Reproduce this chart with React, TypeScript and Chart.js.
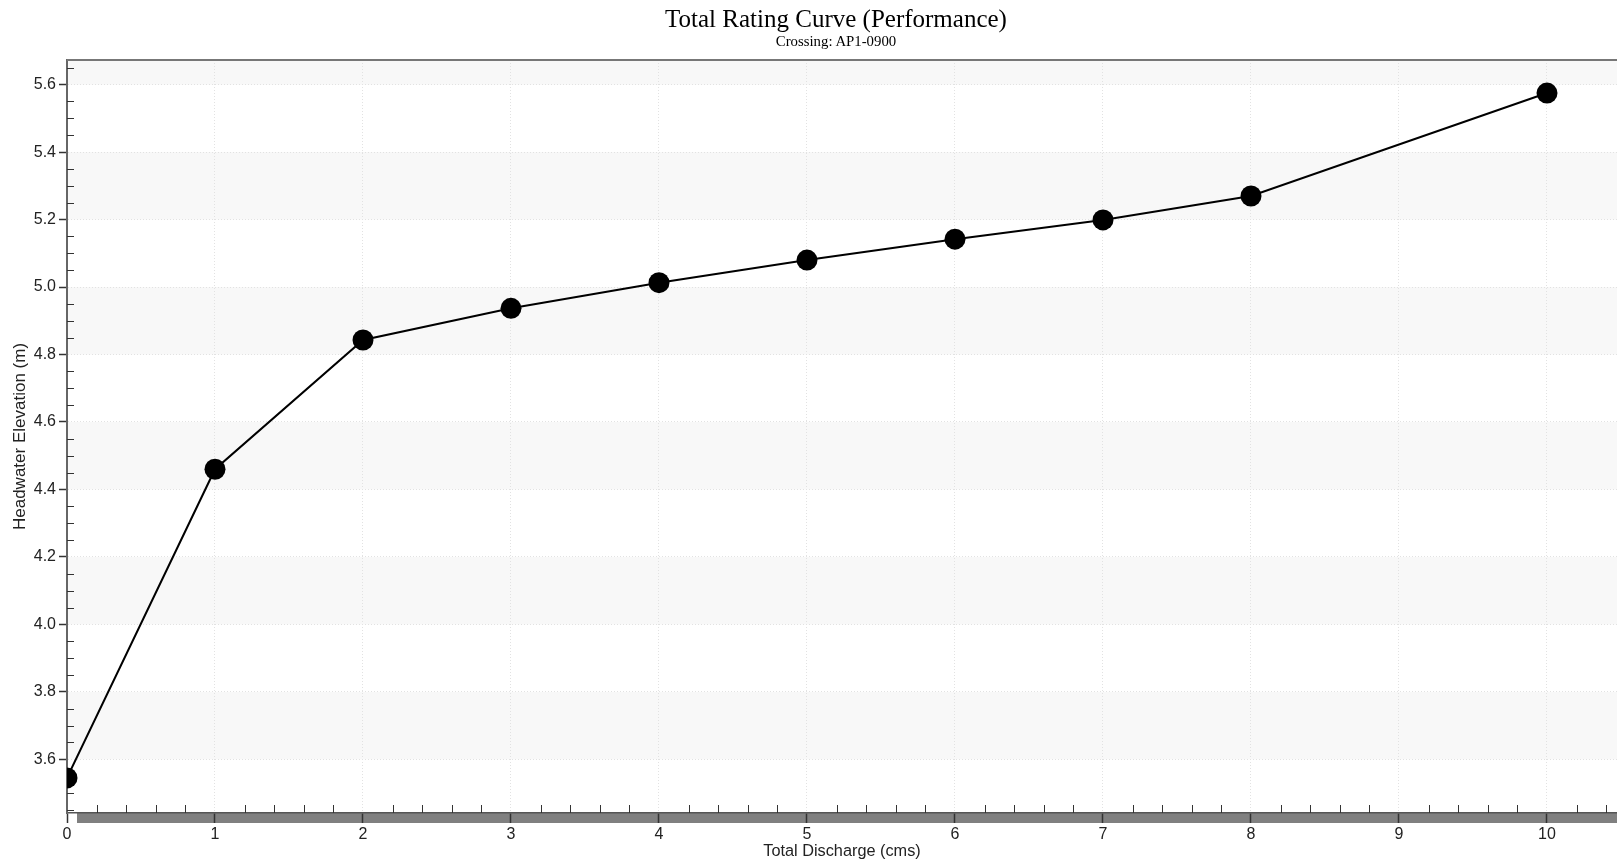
import React, { useEffect, useRef } from "react";
import { Chart, registerables } from "chart.js";

Chart.register(...registerables);

// ---- data ----
const discharge = [0, 1, 2, 3, 4, 5, 6, 7, 8, 10];
const headwater = [3.545, 4.46, 4.843, 4.937, 5.013, 5.08, 5.142, 5.199, 5.27, 5.575];

// ---- axes ----
const xRange = [0, 10.473];
const yRange = [3.441, 5.673];
const xStep = 1;
const xMinorStep = 0.2;
const yStep = 0.2;
const yMinorStep = 0.05;

// ---- texts ----
const titleText = "Total Rating Curve (Performance)";
const subtitleText = "Crossing: AP1-0900";
const xTitle = "Total Discharge (cms)";
const yTitle = "Headwater Elevation (m)";

const SANS = "'Liberation Sans', Arial, sans-serif";
const SERIF = "'Liberation Serif', 'Times New Roman', serif";

const decorPlugin = {
  id: "decor",
  beforeDraw(chart: any) {
    const { ctx, chartArea: a, scales } = chart;
    const y = scales.y;
    ctx.save();
    ctx.fillStyle = "#ffffff";
    ctx.fillRect(0, 0, chart.width, chart.height);
    // alternating bands
    ctx.beginPath();
    ctx.rect(a.left, a.top, a.right - a.left, a.bottom - a.top);
    ctx.clip();
    const i0 = Math.floor(y.min / yStep);
    const i1 = Math.ceil(y.max / yStep);
    for (let i = i0; i < i1; i++) {
      if (i % 2 !== 0) continue;
      const top = y.getPixelForValue((i + 1) * yStep);
      const bot = y.getPixelForValue(i * yStep);
      ctx.fillStyle = "#f8f8f8";
      ctx.fillRect(a.left, top, a.right - a.left, bot - top);
    }
    ctx.restore();
    // scrollbar-like gray strip under the x axis
    ctx.save();
    ctx.fillStyle = "#808080";
    ctx.fillRect(a.left + 10, a.bottom, chart.width - a.left - 10, 10);
    ctx.restore();
  },
  beforeDatasetsDraw(chart: any) {
    const { ctx, chartArea: a, scales } = chart;
    const x = scales.x;
    const y = scales.y;
    ctx.save();
    ctx.strokeStyle = "#333";
    ctx.lineWidth = 1;
    // y minor ticks (inside)
    const j0 = Math.ceil(y.min / yMinorStep);
    const j1 = Math.floor(y.max / yMinorStep);
    ctx.beginPath();
    for (let j = j0; j <= j1; j++) {
      if (j % Math.round(yStep / yMinorStep) === 0) continue;
      const py = Math.round(y.getPixelForValue(j * yMinorStep)) + 0.5;
      ctx.moveTo(a.left, py);
      ctx.lineTo(a.left + 7, py);
    }
    // x minor ticks (inside)
    const k0 = Math.ceil(x.min / xMinorStep);
    const k1 = Math.floor(x.max / xMinorStep);
    for (let k = k0; k <= k1; k++) {
      if (k % Math.round(xStep / xMinorStep) === 0) continue;
      const px = Math.round(x.getPixelForValue(k * xMinorStep)) + 0.5;
      ctx.moveTo(px, a.bottom);
      ctx.lineTo(px, a.bottom - 8);
    }
    ctx.stroke();
    // top border
    ctx.strokeStyle = "#777";
    ctx.lineWidth = 2;
    ctx.beginPath();
    ctx.moveTo(a.left, a.top);
    ctx.lineTo(chart.width, a.top);
    ctx.stroke();
    ctx.restore();
  },
};

export default function App() {
  const ref = useRef<HTMLCanvasElement>(null);

  useEffect(() => {
    if (!ref.current) return;
    const chart = new Chart(ref.current, {
      type: "line",
      data: {
        datasets: [
          {
            data: discharge.map((d, i) => ({ x: d, y: headwater[i] })),
            borderColor: "#000",
            borderWidth: 2,
            pointRadius: 10.5,
            pointBackgroundColor: "#000",
            pointBorderColor: "#000",
            pointBorderWidth: 0,
            tension: 0,
          },
        ],
      },
      options: {
        responsive: false,
        animation: false,
        layout: { autoPadding: false, padding: { top: 60, left: 0, right: 0, bottom: 0 } },
        plugins: {
          legend: { display: false },
          tooltip: { enabled: false },
          title: { display: false },
        },
        scales: {
          x: {
            type: "linear",
            position: "bottom",
            min: xRange[0],
            max: xRange[1],
            afterFit: (s: any) => {
              s.height = 50;
            },
            ticks: {
              stepSize: xStep,
              includeBounds: false,
              padding: 1.5,
              color: "#222",
              font: { family: SANS, size: 16 },
              maxRotation: 0,
              callback: (v: any) => String(v),
            },
            grid: {
              color: "#e2e2e2",
              lineWidth: 1,
              tickLength: 10,
              tickColor: "#333",
              tickWidth: 1.5,
            },
            border: { color: "#555", width: 1.5, dash: [1, 2] },
            title: {
              display: true,
              text: xTitle,
              color: "#222",
              font: { family: SANS, size: 16.3 },
              padding: { top: 0, bottom: 1.8 },
            },
          },
          y: {
            type: "linear",
            position: "left",
            min: yRange[0],
            max: yRange[1],
            afterFit: (s: any) => {
              s.width = 67;
            },
            ticks: {
              stepSize: yStep,
              includeBounds: false,
              padding: 3,
              color: "#222",
              font: { family: SANS, size: 16 },
              callback: (v: any) => Number(v).toFixed(1),
            },
            grid: {
              color: "#e2e2e2",
              lineWidth: 1,
              tickLength: 8,
              tickColor: "#333",
              tickWidth: 1.5,
            },
            border: { color: "#666", width: 2, dash: [1, 2] },
            title: {
              display: true,
              text: yTitle,
              color: "#222",
              font: { family: SANS, size: 17 },
              padding: { top: 10.5, bottom: 0 },
            },
          },
        },
      },
      plugins: [decorPlugin],
    } as any);
    return () => chart.destroy();
  }, []);

  return (
    <div
      style={{
        position: "absolute",
        left: 0,
        top: 0,
        width: 1617,
        height: 863,
        background: "#fff",
        overflow: "hidden",
      }}
    >
      <canvas
        ref={ref}
        width={1617}
        height={863}
        style={{ position: "absolute", left: 0, top: 0, width: 1617, height: 863 }}
      />
      <div
        style={{
          position: "absolute",
          left: 536,
          width: 600,
          top: 5.8,
          textAlign: "center",
          fontFamily: SERIF,
          fontSize: 25,
          lineHeight: "25px",
          color: "#000",
          whiteSpace: "nowrap",
        }}
      >
        {titleText}
      </div>
      <div
        style={{
          position: "absolute",
          left: 636,
          width: 400,
          top: 34.4,
          textAlign: "center",
          fontFamily: SERIF,
          fontSize: 14.8,
          lineHeight: "14.8px",
          color: "#000",
          whiteSpace: "nowrap",
        }}
      >
        {subtitleText}
      </div>
    </div>
  );
}
